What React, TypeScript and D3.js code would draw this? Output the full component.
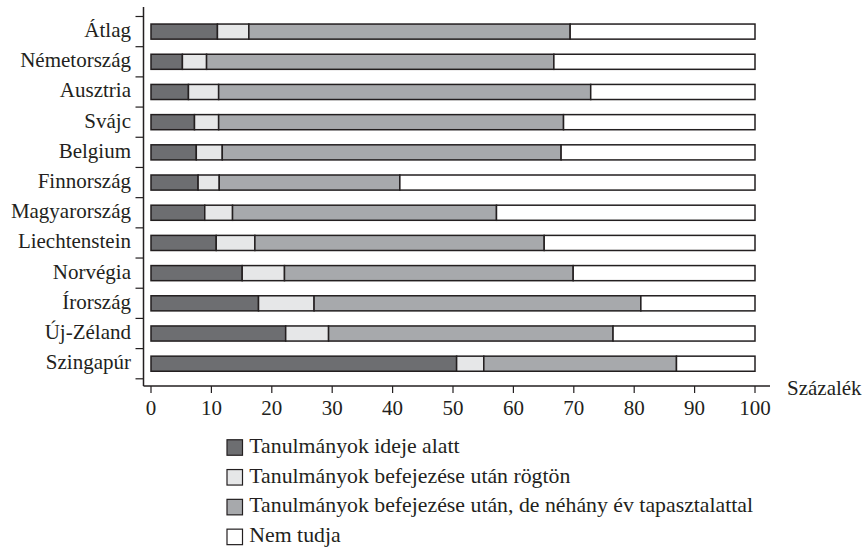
import React from "react";
import * as d3 from "d3";

const categories = ["Átlag","Németország","Ausztria","Svájc","Belgium","Finnország","Magyarország","Liechtenstein","Norvégia","Írország","Új-Zéland","Szingapúr"];
const seriesNames = ["Tanulmányok ideje alatt","Tanulmányok befejezése után rögtön","Tanulmányok befejezése után, de néhány év tapasztalattal","Nem tudja"];
const duringStudies = [11.0,5.2,6.2,7.2,7.5,7.8,8.9,10.8,15.1,17.8,22.3,50.6];
const rightAfter = [5.2,4.0,5.0,4.0,4.3,3.5,4.6,6.4,7.0,9.2,7.1,4.5];
const afterExperience = [53.2,57.5,61.6,57.1,56.1,29.9,43.7,47.9,47.8,54.1,47.1,31.9];
const dontKnow = [30.6,33.3,27.2,31.7,32.1,58.8,42.8,34.9,30.1,18.9,23.5,13.0];
const xTicks = [0,10,20,30,40,50,60,70,80,90,100];
const colors = ["#6d6e71","#e6e7e8","#a7a9ac","#ffffff"];

const FONT = "Liberation Serif, Times New Roman, DejaVu Serif, serif";

export default function App() {
  const W = 863, H = 548;
  const x = d3.scaleLinear().domain([0, 100]).range([151, 755]);
  const y = d3.scaleBand<string>().domain(categories).range([16.5, 378.8]).paddingInner(0.5).paddingOuter(0.25);
  const rows = categories.map((c, i) => ({ c, v: [duringStudies[i], rightAfter[i], afterExperience[i], dontKnow[i]] }));
  const stack = rows.map(r => {
    let acc = 0;
    return r.v.map((v, k) => { const s = { k, x0: acc, x1: acc + v }; acc += v; return s; });
  });
  const axisX = 143.5, axisY = 386;
  const bandStep = y.step();
  const boundaries = d3.range(categories.length + 1).map(i => 16.5 + i * bandStep);
  const ts = { fontFamily: FONT };
  return (
    <svg width={W} height={H} style={{ position: "absolute", left: 0, top: 0, background: "#fff", fontFamily: FONT }}>
      {/* y axis */}
      <line x1={axisX} x2={axisX} y1={7} y2={axisY} stroke="#231f20" strokeWidth={1.5} />
      {boundaries.map((b, i) => (
        <line key={i} x1={axisX - 8} x2={axisX} y1={b} y2={b} stroke="#231f20" strokeWidth={1.2} />
      ))}
      {categories.map(c => (
        <text key={c} style={ts} x={131} y={(y(c) as number) + y.bandwidth() / 2 + 5.5} textAnchor="end" fontSize={21} fill="#231f20">{c}</text>
      ))}
      {/* bars */}
      {rows.map((r, i) => (
        <g key={r.c}>
          {stack[i].map(s => (
            <rect key={s.k} x={x(s.x0)} y={y(r.c)} width={x(s.x1) - x(s.x0)} height={y.bandwidth()} fill={colors[s.k]} stroke="#231f20" strokeWidth={1.5} />
          ))}
        </g>
      ))}
      {/* x axis */}
      <line x1={axisX} x2={770} y1={axisY} y2={axisY} stroke="#231f20" strokeWidth={1.5} />
      {xTicks.map(t => (
        <g key={t}>
          <line x1={x(t)} x2={x(t)} y1={axisY} y2={axisY + 7} stroke="#231f20" strokeWidth={1.2} />
          <text style={ts} x={x(t)} y={415} textAnchor="middle" fontSize={21} fill="#231f20">{t}</text>
        </g>
      ))}
      <text style={ts} x={787} y={395} fontSize={21} fill="#231f20">Százalék</text>
      {/* legend */}
      {seriesNames.map((n, k) => (
        <g key={n} transform={`translate(227, ${447.5 + k * 29.8})`}>
          <rect x={0} y={-7.75} width={15.5} height={15.5} fill={colors[k]} stroke="#231f20" strokeWidth={1.2} />
          <text style={ts} x={22.3} y={5.3} fontSize={21.8} fill="#231f20">{n}</text>
        </g>
      ))}
    </svg>
  );
}
